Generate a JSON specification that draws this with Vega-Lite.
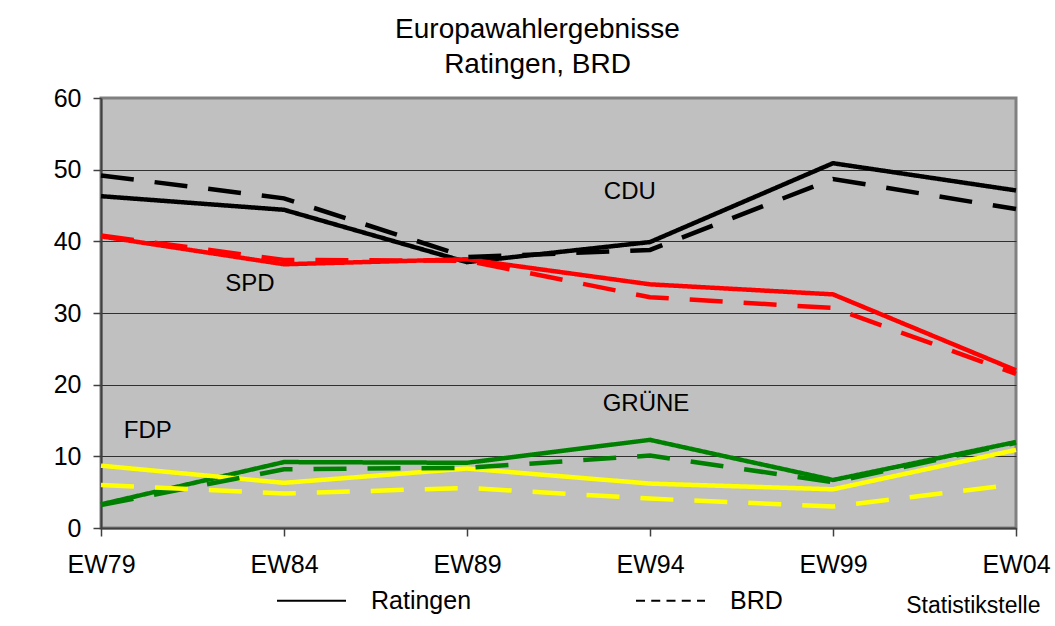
{
  "$schema": "https://vega.github.io/schema/vega-lite/v6.json",
  "autosize": "none",
  "width": 915,
  "height": 430,
  "padding": {"left": 101, "top": 98, "right": 39, "bottom": 98},
  "background": "white",
  "title": {
    "text": ["Europawahlergebnisse", "Ratingen, BRD"],
    "font": "Liberation Sans",
    "fontSize": 28,
    "fontWeight": "normal",
    "color": "black",
    "lineHeight": 35,
    "anchor": "middle",
    "dx": -21,
    "offset": 7
  },
  "config": {
    "view": {"fill": "#C0C0C0", "stroke": "#808080", "strokeWidth": 3},
    "axis": {
      "labelFont": "Liberation Sans",
      "labelFontSize": 25,
      "labelColor": "black",
      "domainColor": "#404040",
      "domainWidth": 2,
      "tickColor": "#404040",
      "tickSize": 8,
      "tickWidth": 1.5
    }
  },
  "datasets": {
    "results": [
      {"party": "CDU", "quelle": "Ratingen", "year": 1979, "value": 46.3},
      {"party": "CDU", "quelle": "Ratingen", "year": 1984, "value": 44.4},
      {"party": "CDU", "quelle": "Ratingen", "year": 1989, "value": 37.1},
      {"party": "CDU", "quelle": "Ratingen", "year": 1994, "value": 39.9},
      {"party": "CDU", "quelle": "Ratingen", "year": 1999, "value": 50.9},
      {"party": "CDU", "quelle": "Ratingen", "year": 2004, "value": 47.1},
      {"party": "SPD", "quelle": "Ratingen", "year": 1979, "value": 40.7},
      {"party": "SPD", "quelle": "Ratingen", "year": 1984, "value": 36.8},
      {"party": "SPD", "quelle": "Ratingen", "year": 1989, "value": 37.5},
      {"party": "SPD", "quelle": "Ratingen", "year": 1994, "value": 34.0},
      {"party": "SPD", "quelle": "Ratingen", "year": 1999, "value": 32.6},
      {"party": "SPD", "quelle": "Ratingen", "year": 2004, "value": 22.0},
      {"party": "GRÜNE", "quelle": "Ratingen", "year": 1979, "value": 3.3},
      {"party": "GRÜNE", "quelle": "Ratingen", "year": 1984, "value": 9.2},
      {"party": "GRÜNE", "quelle": "Ratingen", "year": 1989, "value": 9.1},
      {"party": "GRÜNE", "quelle": "Ratingen", "year": 1994, "value": 12.3},
      {"party": "GRÜNE", "quelle": "Ratingen", "year": 1999, "value": 6.7},
      {"party": "GRÜNE", "quelle": "Ratingen", "year": 2004, "value": 12.0},
      {"party": "FDP", "quelle": "Ratingen", "year": 1979, "value": 8.7},
      {"party": "FDP", "quelle": "Ratingen", "year": 1984, "value": 6.3},
      {"party": "FDP", "quelle": "Ratingen", "year": 1989, "value": 8.3},
      {"party": "FDP", "quelle": "Ratingen", "year": 1994, "value": 6.2},
      {"party": "FDP", "quelle": "Ratingen", "year": 1999, "value": 5.4},
      {"party": "FDP", "quelle": "Ratingen", "year": 2004, "value": 10.9},
      {"party": "CDU", "quelle": "BRD", "year": 1979, "value": 49.2},
      {"party": "CDU", "quelle": "BRD", "year": 1984, "value": 46.0},
      {"party": "CDU", "quelle": "BRD", "year": 1989, "value": 37.8},
      {"party": "CDU", "quelle": "BRD", "year": 1994, "value": 38.8},
      {"party": "CDU", "quelle": "BRD", "year": 1999, "value": 48.7},
      {"party": "CDU", "quelle": "BRD", "year": 2004, "value": 44.5},
      {"party": "SPD", "quelle": "BRD", "year": 1979, "value": 40.8},
      {"party": "SPD", "quelle": "BRD", "year": 1984, "value": 37.4},
      {"party": "SPD", "quelle": "BRD", "year": 1989, "value": 37.3},
      {"party": "SPD", "quelle": "BRD", "year": 1994, "value": 32.2},
      {"party": "SPD", "quelle": "BRD", "year": 1999, "value": 30.7},
      {"party": "SPD", "quelle": "BRD", "year": 2004, "value": 21.5},
      {"party": "GRÜNE", "quelle": "BRD", "year": 1979, "value": 3.2},
      {"party": "GRÜNE", "quelle": "BRD", "year": 1984, "value": 8.2},
      {"party": "GRÜNE", "quelle": "BRD", "year": 1989, "value": 8.4},
      {"party": "GRÜNE", "quelle": "BRD", "year": 1994, "value": 10.1},
      {"party": "GRÜNE", "quelle": "BRD", "year": 1999, "value": 6.4},
      {"party": "GRÜNE", "quelle": "BRD", "year": 2004, "value": 11.9},
      {"party": "FDP", "quelle": "BRD", "year": 1979, "value": 6.0},
      {"party": "FDP", "quelle": "BRD", "year": 1984, "value": 4.8},
      {"party": "FDP", "quelle": "BRD", "year": 1989, "value": 5.6},
      {"party": "FDP", "quelle": "BRD", "year": 1994, "value": 4.1},
      {"party": "FDP", "quelle": "BRD", "year": 1999, "value": 3.0},
      {"party": "FDP", "quelle": "BRD", "year": 2004, "value": 6.1}
    ],
    "labels": [
      {"name": "CDU", "year": 1993.45, "value": 46.9},
      {"name": "SPD", "year": 1983.07, "value": 34.0},
      {"name": "GRÜNE", "year": 1993.89, "value": 17.3},
      {"name": "FDP", "year": 1980.28, "value": 13.5}
    ]
  },
  "encoding": {
    "x": {
      "field": "year",
      "type": "quantitative",
      "scale": {"domain": [1979, 2004], "nice": false, "zero": false},
      "axis": {
        "values": [1979, 1984, 1989, 1994, 1999, 2004],
        "labelExpr": "'EW' + slice(toString(datum.value), 2)",
        "grid": false,
        "labelPadding": 16,
        "labelFlush": false,
        "title": "Statistikstelle",
        "titleFont": "Liberation Sans",
        "titleFontSize": 23,
        "titleFontWeight": "normal",
        "titleColor": "black",
        "titleAlign": "right",
        "titleBaseline": "alphabetic",
        "titleX": 939,
        "titleY": 84
      }
    },
    "y": {
      "field": "value",
      "type": "quantitative",
      "scale": {"domain": [0, 60], "nice": false},
      "axis": {
        "values": [0, 10, 20, 30, 40, 50, 60],
        "title": null,
        "grid": true,
        "gridColor": {"condition": {"test": "datum.value == 60", "value": "#808080"}, "value": "#303030"},
        "gridWidth": 1,
        "labelPadding": 12
      }
    }
  },
  "layer": [
    {
      "data": {"name": "results"},
      "mark": {"type": "line", "strokeWidth": 4.5},
      "encoding": {
        "color": {
          "field": "party",
          "type": "nominal",
          "scale": {"domain": ["CDU", "SPD", "GRÜNE", "FDP"], "range": ["#000000", "#FF0000", "#008000", "#FFFF00"]},
          "legend": null
        },
        "strokeDash": {
          "field": "quelle",
          "type": "nominal",
          "scale": {"domain": ["Ratingen", "BRD"], "range": [[1, 0], [33, 21]]},
          "legend": null
        }
      }
    },
    {
      "data": {"name": "results"},
      "transform": [{"filter": "datum.year > 3000"}],
      "mark": {"type": "line", "strokeWidth": 2, "color": "black"},
      "encoding": {
        "strokeDash": {
          "field": "quelle",
          "type": "nominal",
          "scale": {"domain": ["Ratingen", "BRD"], "range": [[1, 0], [9, 6.25]]},
          "legend": {
            "title": null,
            "orient": "none",
            "legendX": 175,
            "legendY": 467,
            "direction": "horizontal",
            "symbolType": "stroke",
            "symbolSize": 4761,
            "symbolStrokeColor": "black",
            "symbolStrokeWidth": 2,
            "labelFont": "Liberation Sans",
            "labelFontSize": 25,
            "labelColor": "black",
            "labelOffset": 24,
            "columnPadding": 160,
            "padding": 0
          }
        }
      }
    },
    {
      "data": {"name": "labels"},
      "mark": {"type": "text", "font": "Liberation Sans", "fontSize": 24, "color": "black", "align": "center", "baseline": "middle"},
      "encoding": {
        "text": {"field": "name", "type": "nominal"}
      }
    }
  ],
  "resolve": {"scale": {"strokeDash": "independent"}}
}
